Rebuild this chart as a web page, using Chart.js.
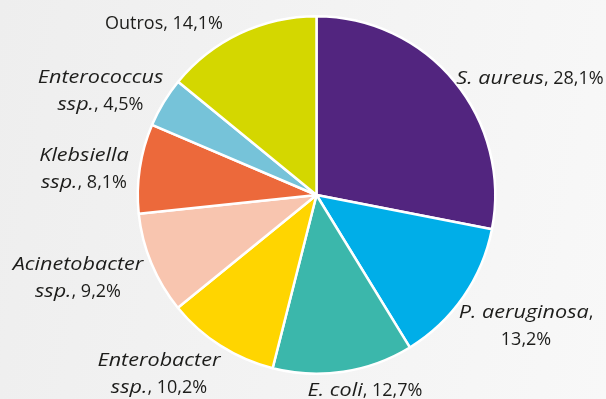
<!DOCTYPE html>
<html>
<head>
<meta charset="utf-8">
<script src="https://cdn.jsdelivr.net/npm/chart.js@4"></script>
<style>
  html, body { margin: 0; padding: 0; }
  body { width: 606px; height: 399px; background: linear-gradient(100deg, #eeeeee 0%, #f3f3f3 50%, #f8f8f8 100%); }
  #wrap { width: 606px; height: 399px; position: relative; }
</style>
</head>
<body>
<div id="wrap"><canvas id="pie"></canvas></div>
<script>
  // dados
  const categorias = ['S. aureus', 'P. aeruginosa', 'E. coli', 'Enterobacter ssp.', 'Acinetobacter ssp.', 'Klebsiella ssp.', 'Enterococcus ssp.', 'Outros'];
  const valores = [28.1, 13.2, 12.7, 10.2, 9.2, 8.1, 4.5, 14.1];
  const cores = ['#52257f', '#00aee8', '#3bb7ab', '#ffd500', '#f8c5af', '#ec693b', '#76c3d9', '#d4d700'];

  // rótulos: cada linha é uma lista de [texto, itálico]
  const rotulos = [
    [[['S. aureus', true], [', 28,1%', false]]],
    [[['P. aeruginosa', true], [',', false]], [['13,2%', false]]],
    [[['E. coli', true], [', 12,7%', false]]],
    [[['Enterobacter', true]], [['ssp.', true], [', 10,2%', false]]],
    [[['Acinetobacter', true]], [['ssp.', true], [', 9,2%', false]]],
    [[['Klebsiella', true]], [['ssp.', true], [', 8,1%', false]]],
    [[['Enterococcus', true]], [['ssp.', true], [', 4,5%', false]]],
    [[['Outros, 14,1%', false]]]
  ];
  // posição do rótulo relativa ao centro da pizza
  const offsets = [[213.5, -116], [209.5, 131], [48.5, 196], [-157.5, 179], [-238.5, 83], [-232.5, -26], [-216, -104], [-152.5, -171]];

  const fonte = '"Open Sans", sans-serif';
  const tam = 18;
  const largItalico = 1.2; // itálico do original é mais largo

  const rotulosPlugin = {
    id: 'rotulos',
    afterDraw(chart) {
      const ctx = chart.ctx;
      const arcs = chart.getDatasetMeta(0).data;
      const cx = arcs[0].x, cy = arcs[0].y;
      ctx.save();
      ctx.fillStyle = '#1d1d1b';
      ctx.textBaseline = 'middle';
      ctx.textAlign = 'left';
      const larg = p => {
        ctx.font = (p[1] ? 'italic ' : '') + tam + 'px ' + fonte;
        return ctx.measureText(p[0]).width * (p[1] ? largItalico : 1);
      };
      rotulos.forEach((linhas, i) => {
        const x0 = cx + offsets[i][0];
        const y0 = cy + offsets[i][1];
        const lh = 27;
        linhas.forEach((partes, j) => {
          const y = y0 + (j - (linhas.length - 1) / 2) * lh;
          let w = 0;
          partes.forEach(p => { w += larg(p); });
          let x = x0 - w / 2;
          partes.forEach(p => {
            const pw = larg(p);
            ctx.save();
            ctx.translate(x, y);
            if (p[1]) ctx.scale(largItalico, 1);
            ctx.fillText(p[0], 0, 0);
            ctx.restore();
            x += pw;
          });
        });
      });
      ctx.restore();
    }
  };

  const ctx = document.getElementById('pie').getContext('2d');
  const grafico = new Chart(ctx, {
    type: 'pie',
    data: {
      labels: categorias,
      datasets: [{
        data: valores,
        backgroundColor: cores,
        borderColor: '#ffffff',
        borderWidth: 2.5
      }]
    },
    options: {
      responsive: true,
      maintainAspectRatio: false,
      animation: false,
      layout: { padding: { left: 136.5, right: 109.5, top: 14.5, bottom: 23.5 } },
      plugins: {
        legend: { display: false },
        tooltip: { enabled: false }
      }
    },
    plugins: [rotulosPlugin]
  });
</script>
</body>
</html>
